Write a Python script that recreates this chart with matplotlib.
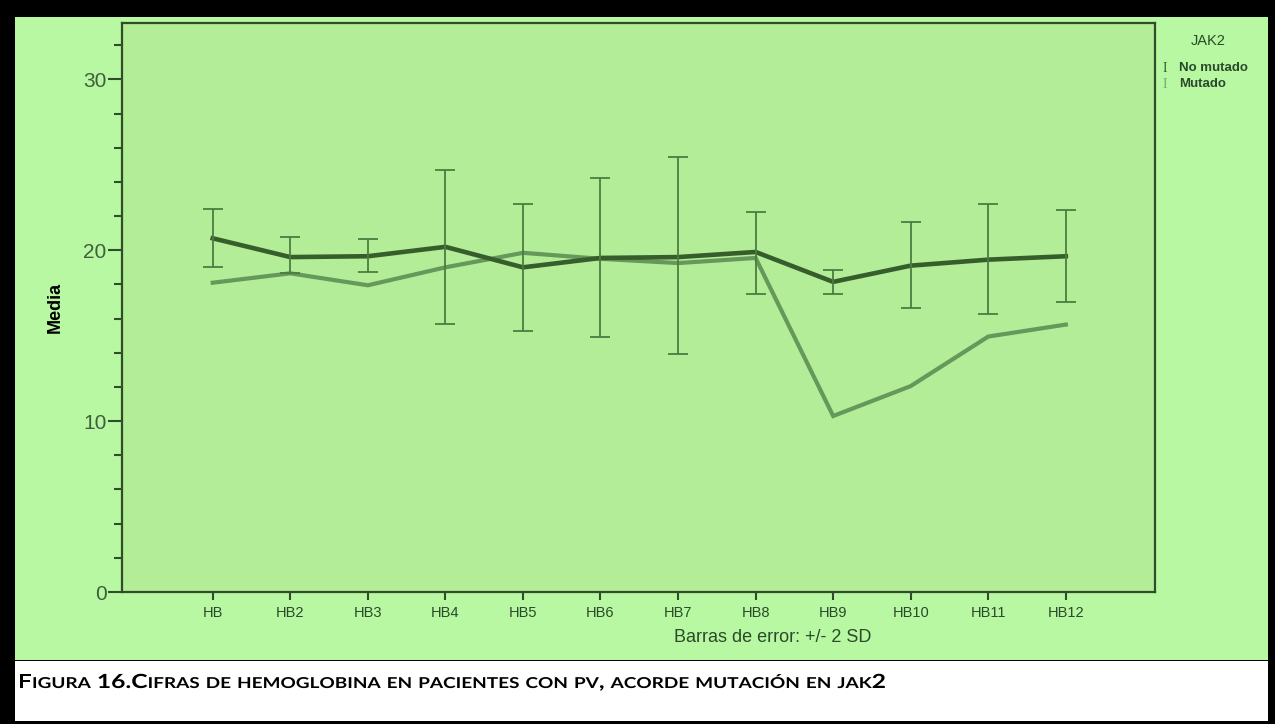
import numpy as np
import matplotlib
matplotlib.use('Agg')
import matplotlib.pyplot as plt
from matplotlib.patches import Rectangle, PathPatch
from matplotlib.textpath import TextPath, text_to_path
from matplotlib.font_manager import FontProperties
from matplotlib.transforms import Affine2D

### data
categories = ['HB', 'HB2', 'HB3', 'HB4', 'HB5', 'HB6', 'HB7', 'HB8', 'HB9', 'HB10', 'HB11', 'HB12']
no_mutado = [20.7, 19.6, 19.65, 20.2, 19.0, 19.55, 19.6, 19.9, 18.15, 19.1, 19.45, 19.65]
no_mutado_low = [19.0, 18.65, 18.7, 15.7, 15.3, 14.9, 13.9, 17.45, 17.45, 16.6, 16.25, 17.0]
no_mutado_high = [22.4, 20.75, 20.65, 24.7, 22.7, 24.2, 25.45, 22.25, 18.85, 21.65, 22.7, 22.35]
mutado = [18.1, 18.65, 17.95, 19.0, 19.85, 19.5, 19.25, 19.55, 10.3, 12.05, 14.95, 15.65]
legend_title = 'JAK2'
legend_labels = ['No mutado', 'Mutado']
caption = 'Figura 16.Cifras de hemoglobina en pacientes con pv, acorde mutación en jak2'

### colours
C_OUT = '#b8f8a3'
C_IN = '#b3ed98'
C_DARK = '#365e2c'
C_LIGHT = '#65985a'
C_ERR = '#4b7d40'
C_AX = '#2e4d28'
C_TXT = '#2a4a2a'

W, H = 1275, 724
fig = plt.figure(figsize=(W / 100., H / 100.), dpi=100)
fig.patch.set_facecolor('black')

def px(x, y):
    return x / float(W), 1 - y / float(H)

# green panel and white caption box
fig.patches.append(Rectangle(px(15, 660), 1253 / W, 643 / H, transform=fig.transFigure,
                             facecolor=C_OUT, edgecolor='none', zorder=-2))
fig.patches.append(Rectangle(px(15, 721), 1253 / W, 60 / H, transform=fig.transFigure,
                             facecolor='white', edgecolor='none', zorder=-2))

plt.rcParams['font.family'] = ['Liberation Sans', 'DejaVu Sans']

l, b = px(122, 592)
r, t = px(1155, 23)
ax = fig.add_axes([l, b, r - l, t - b])
ax.set_zorder(2)
ax.set_facecolor(C_IN)

x = np.arange(len(categories))
mean = np.array(no_mutado)
yerr = [mean - np.array(no_mutado_low), np.array(no_mutado_high) - mean]

ax.plot(x, mutado, color=C_LIGHT, lw=3.0, solid_joinstyle='miter', zorder=2)
ax.plot(x, no_mutado, color=C_DARK, lw=3.3, solid_joinstyle='miter', zorder=3)
ax.errorbar(x, no_mutado, yerr=yerr, fmt='none', ecolor=C_ERR, elinewidth=1.3,
            capsize=7, capthick=1.3, zorder=4)

ax.set_xlim(-1.17, 12.15)
ax.set_ylim(0, 33.3)
ax.set_xticks(x)
ax.set_xticklabels(categories, fontsize=10.5, color=C_TXT)
ax.set_yticks([0, 10, 20, 30])
ax.set_yticks(np.arange(0, 34, 2), minor=True)
ax.tick_params(axis='y', which='major', length=10, width=1.5, color=C_AX,
               labelsize=15, labelcolor='#3f5f3c', pad=1)
ax.tick_params(axis='y', which='minor', length=6, width=1.5, color=C_AX)
ax.tick_params(axis='x', length=6, width=1.5, color=C_AX, pad=4)
for s in ax.spines.values():
    s.set_color(C_AX)
    s.set_linewidth(1.6)

fig.text(*px(55, 307), 'Media', rotation=90, fontsize=13, fontweight='bold',
         color='black', ha='center', va='center')
fig.text(*px(773, 637), 'Barras de error: +/- 2 SD', fontsize=13, color=C_TXT,
         ha='center', va='center')

# legend
fig.text(*px(1208, 41), legend_title, fontsize=10.5, color=C_TXT, ha='center', va='center')
for i, (lab, c) in enumerate(zip(legend_labels, [C_DARK, '#7aa56d'])):
    yy = 68 + 16 * i
    fig.text(*px(1165, yy), 'I', family='Liberation Serif', fontsize=10, color=c,
             ha='center', va='center')
    fig.text(*px(1179, yy), lab, fontsize=9.5, fontweight='bold', color=C_TXT,
             ha='left', va='center')

# caption in small caps, drawn as slightly stretched text paths (the screenshot is wide)
BIG, SMALL = 19.5, 15.0
def prop(sz):
    return FontProperties(family='Lato', weight='bold', size=sz)

def adv(s, sz):
    return text_to_path.get_text_width_height_descent(s, prop(sz), ismath=False)[0]

space = adv('i i', BIG) - adv('ii', BIG)
pieces = []
cx = 0.0
for wi, word in enumerate(caption.split(' ')):
    if wi > 0:
        cx += space
    runs = []
    for ch in word:
        small = ch.islower()
        if runs and runs[-1][1] == small:
            runs[-1][0] += ch.upper() if small else ch
        else:
            runs.append([ch.upper() if small else ch, small])
    for s, small in runs:
        sz = SMALL if small else BIG
        pieces.append((cx, s, sz))
        cx += adv(s, sz)

x0, x1, base = 18, 886, 688
sx = (x1 - x0) / cx
for off, s, sz in pieces:
    path = TextPath((0, 0), s, size=sz, prop=prop(sz))
    tr = Affine2D().scale(sx, 1).translate(x0 + off * sx, H - base)
    fig.patches.append(PathPatch(path, transform=tr, facecolor='black', lw=0, zorder=3))

fig.savefig('out.png', dpi=100, facecolor=fig.get_facecolor())
